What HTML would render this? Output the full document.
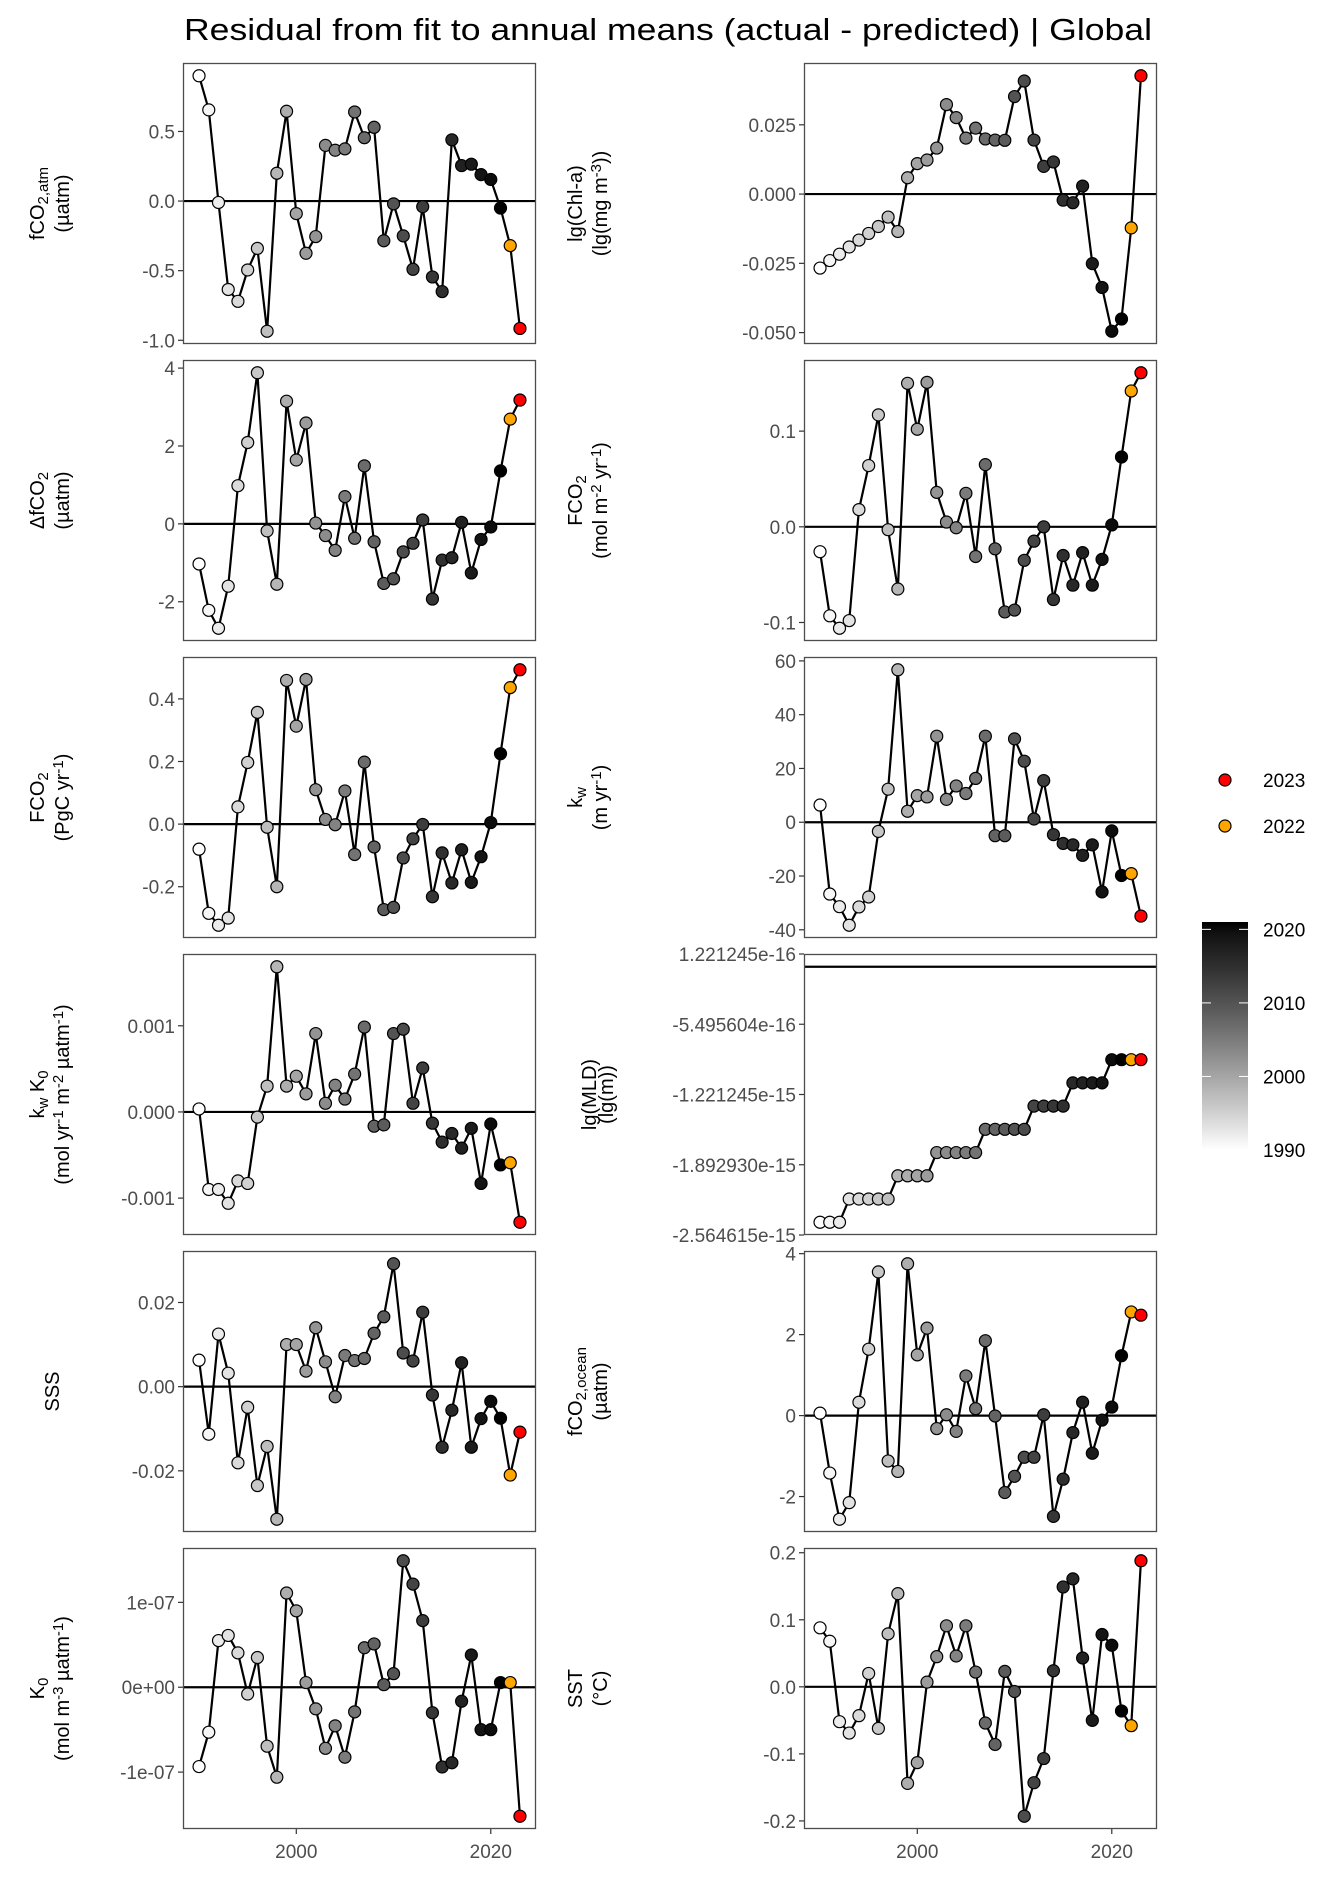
<!DOCTYPE html>
<html><head><meta charset="utf-8">
<style>
html,body{margin:0;padding:0;background:#fff;}
svg{display:block;font-family:"Liberation Sans",Arial,sans-serif;}
</style></head>
<body>
<svg id="fig" width="1344" height="1881" viewBox="0 0 1344 1881" xmlns="http://www.w3.org/2000/svg">
<text x="184" y="40" font-size="31" fill="#000" textLength="968" lengthAdjust="spacingAndGlyphs">Residual from fit to annual means (actual - predicted) | Global</text>
<g>
<circle cx="1225" cy="780" r="6" fill="#ff0000" stroke="#000" stroke-width="1.2"/>
<text x="1263" y="787" font-size="19">2023</text>
<circle cx="1225" cy="826" r="6" fill="#ffa500" stroke="#000" stroke-width="1.2"/>
<text x="1263" y="833" font-size="19">2022</text>
</g>
<g id="cbar"></g>
<g id="panels"></g>
</svg>
<script>
const years = [];
for (let y = 1990; y <= 2023; y++) years.push(y);

const fco2atm = [0.90,0.655,-0.01,-0.635,-0.72,-0.495,-0.34,-0.935,0.20,0.645,-0.09,-0.375,-0.255,0.40,0.365,0.375,0.64,0.455,0.53,-0.285,-0.02,-0.25,-0.49,-0.04,-0.545,-0.65,0.44,0.255,0.265,0.19,0.155,-0.05,-0.32,-0.915];
const dfco2 = [-1.03,-2.22,-2.68,-1.6,0.98,2.09,3.88,-0.18,-1.55,3.15,1.64,2.59,0.02,-0.3,-0.68,0.7,-0.37,1.49,-0.46,-1.53,-1.41,-0.72,-0.5,0.1,-1.93,-0.93,-0.87,0.04,-1.26,-0.4,-0.08,1.36,2.69,3.18];
const fco2pgc = [-0.08,-0.285,-0.323,-0.30,0.055,0.197,0.357,-0.01,-0.2,0.459,0.313,0.462,0.11,0.015,-0.002,0.106,-0.097,0.198,-0.073,-0.273,-0.266,-0.108,-0.047,-0.001,-0.232,-0.092,-0.188,-0.082,-0.186,-0.104,0.005,0.225,0.436,0.493];
const kwk0 = [0.035e-3,-0.9e-3,-0.9e-3,-1.06e-3,-0.80e-3,-0.83e-3,-0.06e-3,0.30e-3,1.685e-3,0.30e-3,0.415e-3,0.21e-3,0.91e-3,0.10e-3,0.31e-3,0.15e-3,0.44e-3,0.985e-3,-0.165e-3,-0.15e-3,0.91e-3,0.96e-3,0.10e-3,0.51e-3,-0.13e-3,-0.35e-3,-0.25e-3,-0.42e-3,-0.19e-3,-0.83e-3,-0.14e-3,-0.615e-3,-0.59e-3,-1.28e-3];
const sss = [0.0063,-0.0113,0.0125,0.0032,-0.0181,-0.0049,-0.0235,-0.0142,-0.0315,0.0100,0.0100,0.0037,0.0140,0.0059,-0.0024,0.0074,0.0062,0.0067,0.0127,0.0166,0.0292,0.0080,0.0061,0.0177,-0.0020,-0.0144,-0.0056,0.0057,-0.0144,-0.0076,-0.0035,-0.0075,-0.0210,-0.0108];
const k0 = [-0.935e-7,-0.53e-7,0.55e-7,0.61e-7,0.405e-7,-0.08e-7,0.35e-7,-0.695e-7,-1.06e-7,1.11e-7,0.90e-7,0.055e-7,-0.255e-7,-0.72e-7,-0.455e-7,-0.825e-7,-0.29e-7,0.465e-7,0.51e-7,0.03e-7,0.16e-7,1.49e-7,1.215e-7,0.785e-7,-0.30e-7,-0.94e-7,-0.89e-7,-0.165e-7,0.38e-7,-0.50e-7,-0.50e-7,0.055e-7,0.055e-7,-1.52e-7];
const chla = [-0.0267,-0.0240,-0.0217,-0.0191,-0.0166,-0.0142,-0.0117,-0.0083,-0.0135,0.0059,0.0110,0.0123,0.0166,0.0323,0.0276,0.0202,0.0238,0.0199,0.0195,0.0194,0.0352,0.0408,0.0195,0.0100,0.0116,-0.0022,-0.0031,0.0029,-0.0251,-0.0337,-0.0495,-0.0451,-0.0122,0.0427];
const fco2mol = [-0.026,-0.093,-0.106,-0.098,0.018,0.064,0.117,-0.003,-0.065,0.150,0.102,0.151,0.036,0.005,-0.001,0.035,-0.031,0.065,-0.023,-0.089,-0.087,-0.035,-0.015,0.0,-0.076,-0.030,-0.061,-0.027,-0.061,-0.034,0.002,0.073,0.142,0.161];
const kw = [6.4,-26.7,-31.4,-38.3,-31.5,-27.8,-3.4,12.3,56.7,4.1,9.9,9.4,32.0,8.5,13.5,10.7,16.3,32.0,-5.0,-5.0,31.0,22.7,1.2,15.5,-4.6,-7.9,-8.4,-12.3,-8.4,-25.9,-3.2,-19.8,-19.1,-34.9];
const mldSteps = [11,11,11,10,10,10,10,10,9,9,9,9,8,8,8,8,8,7,7,7,7,7,6,6,6,6,5,5,5,5,4,4,4,4];
const mld = mldSteps.map(k => -k * 2.220446e-16);
const fco2ocean = [0.06,-1.42,-2.56,-2.15,0.33,1.64,3.55,-1.12,-1.38,3.75,1.50,2.16,-0.32,0.02,-0.39,0.98,0.17,1.85,-0.01,-1.90,-1.50,-1.03,-1.03,0.02,-2.49,-1.57,-0.42,0.33,-0.93,-0.11,0.21,1.48,2.56,2.48];
const sst = [0.088,0.068,-0.052,-0.069,-0.043,0.020,-0.062,0.079,0.139,-0.144,-0.113,0.007,0.045,0.091,0.046,0.091,0.022,-0.054,-0.086,0.023,-0.007,-0.193,-0.143,-0.107,0.024,0.149,0.161,0.043,-0.050,0.078,0.062,-0.036,-0.058,0.188];

const xTicks = [2000, 2020];
const xTickLabels = ["2000", "2020"];
const cbarTicks = [1990, 2000, 2010, 2020];
const cbarLabels = ["1990", "2000", "2010", "2020"];

const ticksFco2atm = [0.5,0,-0.5,-1.0], labsFco2atm = ["0.5","0.0","-0.5","-1.0"];
const ticksDfco2 = [4,2,0,-2], labsDfco2 = ["4","2","0","-2"];
const ticksPgc = [0.4,0.2,0,-0.2], labsPgc = ["0.4","0.2","0.0","-0.2"];
const ticksKwk0 = [0.001,0,-0.001], labsKwk0 = ["0.001","0.000","-0.001"];
const ticksSss = [0.02,0,-0.02], labsSss = ["0.02","0.00","-0.02"];
const ticksK0 = [1e-7,0,-1e-7], labsK0 = ["1e-07","0e+00","-1e-07"];
const ticksChla = [0.025,0,-0.025,-0.05], labsChla = ["0.025","0.000","-0.025","-0.050"];
const ticksMol = [0.1,0,-0.1], labsMol = ["0.1","0.0","-0.1"];
const ticksKw = [60,40,20,0,-20,-40], labsKw = ["60","40","20","0","-20","-40"];
const ticksMld = [1.221245e-16,-5.495604e-16,-1.221245e-15,-1.892930e-15,-2.564615e-15], labsMld = ["1.221245e-16","-5.495604e-16","-1.221245e-15","-1.892930e-15","-2.564615e-15"];
const ticksOcean = [4,2,0,-2], labsOcean = ["4","2","0","-2"];
const ticksSst = [0.2,0.1,0,-0.1,-0.2], labsSst = ["0.2","0.1","0.0","-0.1","-0.2"];

const NS = "http://www.w3.org/2000/svg";
const PW = 353, PH = 281, ROW0 = 63, RSTEP = 297;
const COLX = [183, 804];

function mk(tag, attrs, parent) {
  const e = document.createElementNS(NS, tag);
  for (const k in attrs) e.setAttribute(k, attrs[k]);
  if (parent) parent.appendChild(e);
  return e;
}
function labToGray(L) {
  const Y = L > 8 ? Math.pow((L + 16) / 116, 3) : L / 903.3;
  const c = Y <= 0.0031308 ? 12.92 * Y : 1.055 * Math.pow(Y, 1 / 2.4) - 0.055;
  const v = Math.round(Math.max(0, Math.min(1, c)) * 255);
  return "rgb(" + v + "," + v + "," + v + ")";
}
function fillFor(y) {
  if (y === 2023) return "#ff0000";
  if (y === 2022) return "#ffa500";
  const t = (y - 1990) / (2021 - 1990);
  return labToGray(100 * (1 - t));
}

const panels = [
  {name:"fco2-atm", col:0, row:0, vals:fco2atm, ticks:ticksFco2atm, labs:labsFco2atm, t1:[["fCO",""],["2,atm","sub"]], t2:[["(µatm)",""]]},
  {name:"delta-fco2", col:0, row:1, vals:dfco2, ticks:ticksDfco2, labs:labsDfco2, t1:[["ΔfCO",""],["2","sub"]], t2:[["(µatm)",""]]},
  {name:"fco2-pgc", col:0, row:2, vals:fco2pgc, ticks:ticksPgc, labs:labsPgc, t1:[["FCO",""],["2","sub"]], t2:[["(PgC yr",""],["-1","sup"],[")",""]]},
  {name:"kw-k0", col:0, row:3, vals:kwk0, ticks:ticksKwk0, labs:labsKwk0, t1:[["k",""],["w","sub"],[" K",""],["0","sub"]], t2:[["(mol yr",""],["-1","sup"],[" m",""],["-2","sup"],[" µatm",""],["-1","sup"],[")",""]]},
  {name:"sss", col:0, row:4, vals:sss, ticks:ticksSss, labs:labsSss, t1:[["SSS",""]], t2:null},
  {name:"k0", col:0, row:5, vals:k0, ticks:ticksK0, labs:labsK0, t1:[["K",""],["0","sub"]], t2:[["(mol m",""],["-3","sup"],[" µatm",""],["-1","sup"],[")",""]]},
  {name:"chl-a", col:1, row:0, vals:chla, ticks:ticksChla, labs:labsChla, t1:[["lg(Chl-a)",""]], t2:[["(lg(mg m",""],["-3","sup"],["))",""]]},
  {name:"fco2-mol", col:1, row:1, vals:fco2mol, ticks:ticksMol, labs:labsMol, t1:[["FCO",""],["2","sub"]], t2:[["(mol m",""],["-2","sup"],[" yr",""],["-1","sup"],[")",""]]},
  {name:"kw", col:1, row:2, vals:kw, ticks:ticksKw, labs:labsKw, t1:[["k",""],["w","sub"]], t2:[["(m yr",""],["-1","sup"],[")",""]]},
  {name:"mld", col:1, row:3, vals:mld, ticks:ticksMld, labs:labsMld, t1:[["lg(MLD)",""]], t2:[["(lg(m))",""]], tx:[596,613]},
  {name:"fco2-ocean", col:1, row:4, vals:fco2ocean, ticks:ticksOcean, labs:labsOcean, t1:[["fCO",""],["2,ocean","sub"]], t2:[["(µatm)",""]]},
  {name:"sst", col:1, row:5, vals:sst, ticks:ticksSst, labs:labsSst, t1:[["SST",""]], t2:[["(°C)",""]]}
];

const root = document.getElementById("panels");
const xmin = 1990 - 0.05 * 33, xmax = 2023 + 0.05 * 33;

function addTitle(g, parts, x, cy, name) {
  const t = mk("text", {x:x, y:cy, "text-anchor":"middle", "font-size":"20", fill:"#000", transform:"rotate(-90 " + x + " " + cy + ")"}, g);
  
  
  parts.forEach(p => {
    const s = mk("tspan", {}, t);
    s.textContent = p[0];
    if (p[1] === "sub") { s.setAttribute("baseline-shift", "-25%"); s.setAttribute("font-size", "15"); }
    if (p[1] === "sup") { s.setAttribute("baseline-shift", "40%"); s.setAttribute("font-size", "15"); }
  });
}

panels.forEach(p => {
  const L = COLX[p.col], T = ROW0 + p.row * RSTEP;
  const g = mk("g", {}, root);
  
  
  let lo = Math.min(0, ...p.vals), hi = Math.max(0, ...p.vals);
  const pad = (hi - lo) * 0.05; lo -= pad; hi += pad;
  const X = yr => L + (yr - xmin) / (xmax - xmin) * PW;
  const Y = v => T + PH - (v - lo) / (hi - lo) * PH;

  const bg = mk("rect", {x:L, y:T, width:PW, height:PH, fill:"#fff", stroke:"none"}, g);
  
  

  p.ticks.forEach((tv, i) => {
    const yy = Y(tv);
    const tk = mk("line", {x1:L - 5, x2:L, y1:yy, y2:yy, stroke:"#333", "stroke-width":"1.2"}, g);
    
    
    const tl = mk("text", {x:L - 8, y:yy + 7, "text-anchor":"end", "font-size":"19", fill:"#4d4d4d"}, g);
    
    
    tl.textContent = p.labs[i];
  });

  const zl = mk("line", {x1:L, x2:L + PW, y1:Y(0), y2:Y(0), stroke:"#000", "stroke-width":"2.2"}, g);
  
  

  const pts = p.vals.map((v, i) => X(years[i]).toFixed(2) + "," + Y(v).toFixed(2)).join(" ");
  const pl = mk("polyline", {points:pts, fill:"none", stroke:"#000", "stroke-width":"2.2", "stroke-linejoin":"round"}, g);
  
  

  p.vals.forEach((v, i) => {
    const c = mk("circle", {cx:X(years[i]), cy:Y(v), r:"6", fill:fillFor(years[i]), stroke:"#000", "stroke-width":"1.2"}, g);
    
    
  });

  const bd = mk("rect", {x:L + 0.5, y:T + 0.5, width:PW - 1, height:PH - 1, fill:"none", stroke:"#4d4d4d", "stroke-width":"1.3"}, g);
  
  

  if (p.row === 5) {
    xTicks.forEach((yr, i) => {
      const xx = X(yr);
      const tk = mk("line", {x1:xx, x2:xx, y1:T + PH, y2:T + PH + 5, stroke:"#333", "stroke-width":"1.2"}, g);
      
      
      const tl = mk("text", {x:xx, y:T + PH + 29, "text-anchor":"middle", "font-size":"19", fill:"#4d4d4d"}, g);
      
      
      tl.textContent = xTickLabels[i];
    });
  }

  const cy = T + PH / 2;
  const xs = p.tx || (p.col === 0 ? [44, 69] : [582, 607]);
  if (p.t2) {
    addTitle(g, p.t1, xs[0], cy, 'y-axis-title');
    addTitle(g, p.t2, xs[1], cy, 'y-axis-units');
  } else {
    addTitle(g, p.t1, p.col === 0 ? 59 : 597, cy, 'y-axis-title');
  }
});

const cb = document.getElementById("cbar");
const cbTop = 922, cbBot = 1150, cbL = 1202, cbW = 46;
const defs = mk("defs", {}, cb);
const grad = mk("linearGradient", {id:"gbar", x1:"0", y1:"1", x2:"0", y2:"0"}, defs);
for (let k = 0; k <= 20; k++) {
  const yr = 1990 + (2021 - 1990) * k / 20;
  mk("stop", {offset:(k / 20).toFixed(3), "stop-color":fillFor(yr)}, grad);
}
const cr = mk("rect", {x:cbL, y:cbTop, width:cbW, height:cbBot - cbTop, fill:"url(#gbar)"}, cb);


const cbY = yr => cbBot - (yr - 1990) / (2021 - 1990) * (cbBot - cbTop);
cbarTicks.forEach((yr, i) => {
  const yy = cbY(yr);
  const a = mk("line", {x1:cbL, x2:cbL + 9, y1:yy, y2:yy, stroke:"#fff", "stroke-width":"1"}, cb);
  
  
  const b = mk("line", {x1:cbL + cbW - 9, x2:cbL + cbW, y1:yy, y2:yy, stroke:"#fff", "stroke-width":"1"}, cb);
  
  
  const t = mk("text", {x:1263, y:yy + 7, "font-size":"19", fill:"#000"}, cb);
  
  
  t.textContent = cbarLabels[i];
});
</script>
</body></html>
